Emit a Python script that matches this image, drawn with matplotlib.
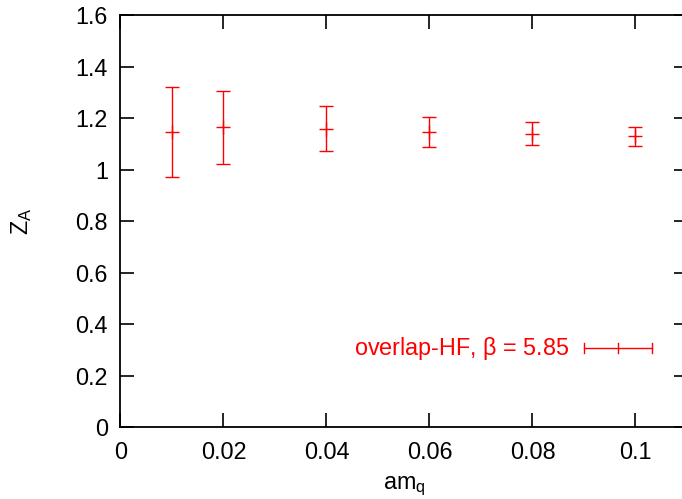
import matplotlib
matplotlib.use('Agg')
import matplotlib.pyplot as plt
from matplotlib.ticker import FormatStrFormatter, MultipleLocator

plt.rcParams['font.family'] = ['Liberation Sans', 'DejaVu Sans']

# data
am_q = [0.01, 0.02, 0.04, 0.06, 0.08, 0.10]
z_a = [1.145, 1.166, 1.159, 1.148, 1.140, 1.130]
z_lo = [0.972, 1.023, 1.074, 1.089, 1.095, 1.092]
z_hi = [1.320, 1.307, 1.246, 1.205, 1.185, 1.167]
label = r'overlap-HF, $\mathregular{\beta}$ = 5.85'

err_lo = [c - l for c, l in zip(z_a, z_lo)]
err_hi = [h - c for c, h in zip(z_a, z_hi)]

fig = plt.figure(figsize=(6.82, 4.99), dpi=100)
ax = fig.add_axes([0.1765, 0.1443, 0.8323, 0.825])

ax.errorbar(am_q, z_a, yerr=[err_lo, err_hi], fmt='+', color='red',
            ms=10, mew=1, elinewidth=1, capsize=5, capthick=1)

# gnuplot style key: text + horizontal error bar sample
ly = 0.191
ax.text(0.79, ly, label, transform=ax.transAxes, color='red', fontsize=16.8,
        ha='right', va='center')
ax.plot([0.8168, 0.936], [ly, ly], color='red', lw=1, transform=ax.transAxes)
for xx in (0.8168, 0.936, 0.8766):
    ax.plot([xx, xx], [ly - 0.012, ly + 0.012], color='red', lw=1,
            transform=ax.transAxes)

ax.set_xlim(0, 0.1102)
ax.set_ylim(0, 1.6)
ax.xaxis.set_major_locator(MultipleLocator(0.02))
ax.yaxis.set_major_locator(MultipleLocator(0.2))
ax.xaxis.set_major_formatter(FormatStrFormatter('%g'))
ax.yaxis.set_major_formatter(FormatStrFormatter('%g'))
ax.tick_params(direction='in', length=10, width=1.2, labelsize=16.8,
               top=True, right=True)
ax.tick_params(axis='x', pad=10)
ax.tick_params(axis='y', pad=9)
for s in ax.spines.values():
    s.set_linewidth(1.3)

ax.set_xlabel(r'am$_\mathregular{q}$', fontsize=16.8, labelpad=8)
ax.set_ylabel(r'Z$_\mathregular{A}$', fontsize=16.8, labelpad=30)

fig.savefig('out.png', dpi=100)
